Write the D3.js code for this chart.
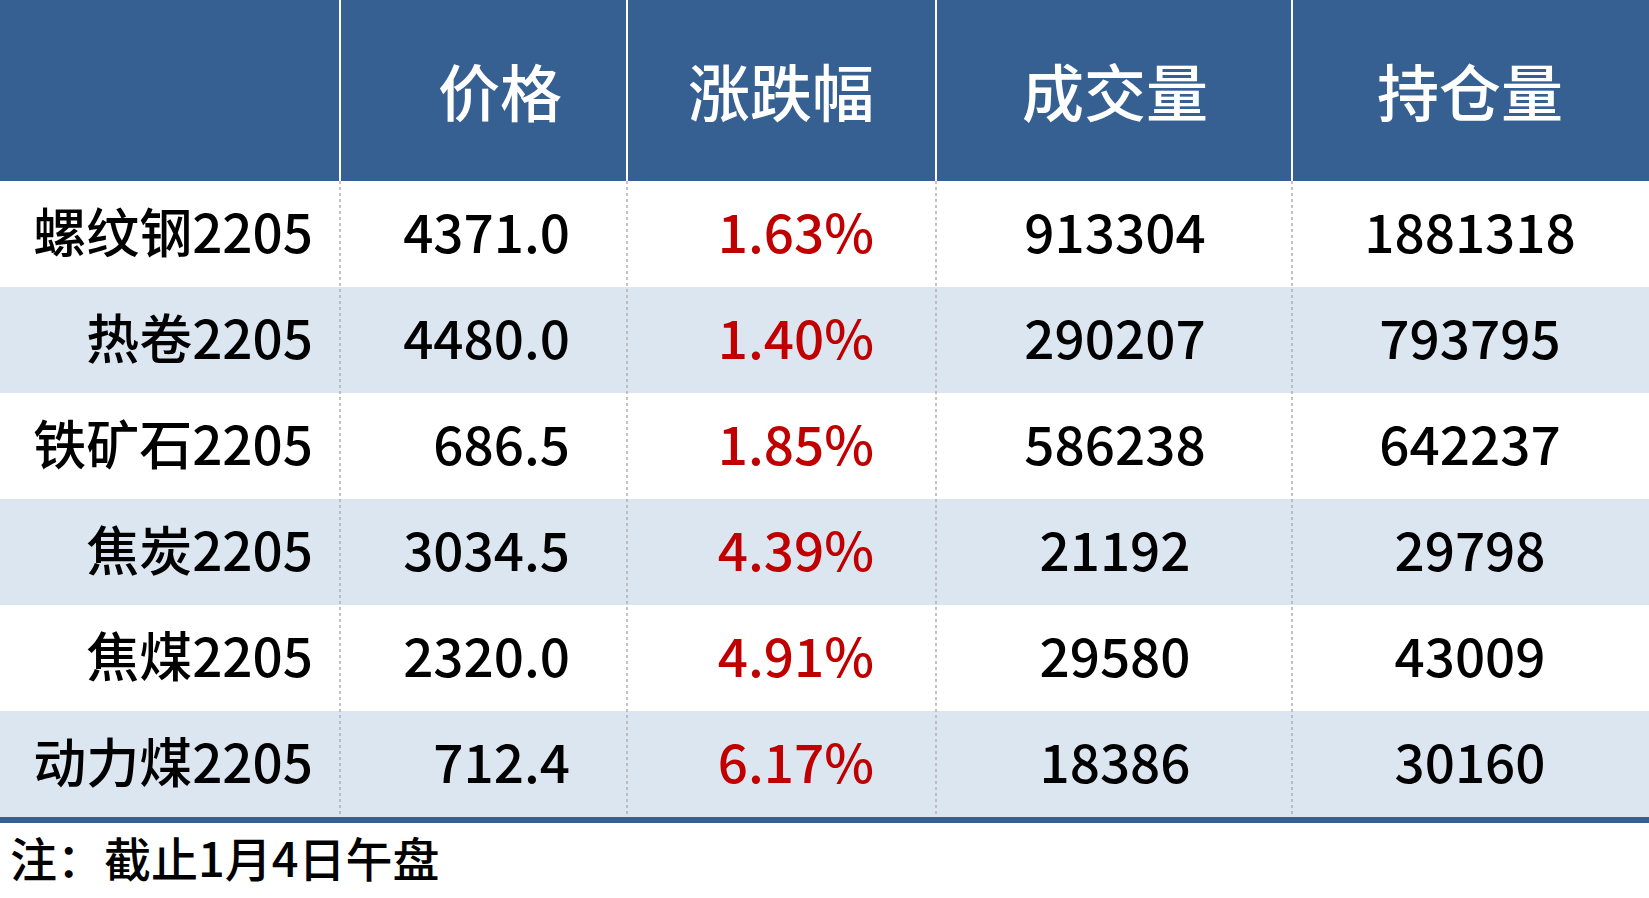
<!DOCTYPE html>
<html><head><meta charset="utf-8">
<script src="https://cdn.jsdelivr.net/npm/d3@7"></script>
<style>body{margin:0;background:#fff}</style>
</head><body><svg id="c" width="1649" height="898"></svg>
<script>
var headers = ['', '价格', '涨跌幅', '成交量', '持仓量']
var names = ['螺纹钢2205', '热卷2205', '铁矿石2205', '焦炭2205', '焦煤2205', '动力煤2205']
var prices = ['4371.0', '4480.0', '686.5', '3034.5', '2320.0', '712.4']
var changes = ['1.63%', '1.40%', '1.85%', '4.39%', '4.91%', '6.17%']
var volumes = ['913304', '290207', '586238', '21192', '29580', '18386']
var holdings = ['1881318', '793795', '642237', '29798', '43009', '30160']

var svg = d3.select('#c')
var font = '"Noto Sans CJK SC", "Noto Sans", sans-serif'
var colEdges = [0, 340, 627, 936, 1292, 1649]
var headH = 181
var y = d3.scaleBand().domain(d3.range(names.length)).range([headH, 817])

svg.append('rect').attr('x', 0).attr('y', 0).attr('width', 1649).attr('height', headH).attr('fill', '#376092')
for (var i = 1; i < 5; i++) {
  svg.append('line').attr('x1', colEdges[i]).attr('x2', colEdges[i]).attr('y1', 0).attr('y2', headH)
    .attr('stroke', '#fff').attr('stroke-width', 2)
}
var headX = [0, 500, 781, 1115, 1470]
headers.forEach(function (h, i) {
  svg.append('text').attr('x', headX[i]).attr('y', 95).attr('dy', '0.35em')
    .attr('text-anchor', 'middle').attr('fill', '#fff').style('font-weight', 500)
    .style('font-family', font).style('font-size', '62px').text(h)
})

var rows = svg.selectAll('g.row').data(names).enter().append('g').attr('class', 'row')
rows.append('rect').attr('x', 0).attr('width', 1649)
  .attr('y', function (d, i) { return y(i) }).attr('height', y.bandwidth())
  .attr('fill', function (d, i) { return i % 2 ? '#dce6f1' : '#fff' })

for (var i = 1; i < 5; i++) {
  svg.append('line').attr('x1', colEdges[i]).attr('x2', colEdges[i]).attr('y1', headH).attr('y2', 817)
    .attr('stroke', '#b0b0b0').attr('stroke-width', 1.5).attr('stroke-dasharray', '3,3')
}

var cols = [
  {vals: names, x: 313, anchor: 'end', color: '#000'},
  {vals: prices, x: 570, anchor: 'end', color: '#000'},
  {vals: changes, x: 874, anchor: 'end', color: '#c00000'},
  {vals: volumes, x: 1115, anchor: 'middle', color: '#000'},
  {vals: holdings, x: 1470, anchor: 'middle', color: '#000'}
]
cols.forEach(function (c) {
  svg.selectAll(null).data(c.vals).enter().append('text')
    .attr('x', c.x).attr('y', function (d, i) { return y(i) + y.bandwidth() / 2 })
    .attr('dy', '0.36em').attr('text-anchor', c.anchor).attr('fill', c.color).style('font-weight', 500)
    .style('font-family', font).style('font-size', '53px').text(function (d) { return d })
})

svg.append('rect').attr('x', 0).attr('y', 817).attr('width', 1649).attr('height', 6).attr('fill', '#376092')
svg.append('text').attr('x', 10).attr('y', 860).attr('dy', '0.36em').style('font-weight', 500)
  .style('font-family', font).style('font-size', '47px').text('注：截止1月4日午盘')
</script></body></html>
